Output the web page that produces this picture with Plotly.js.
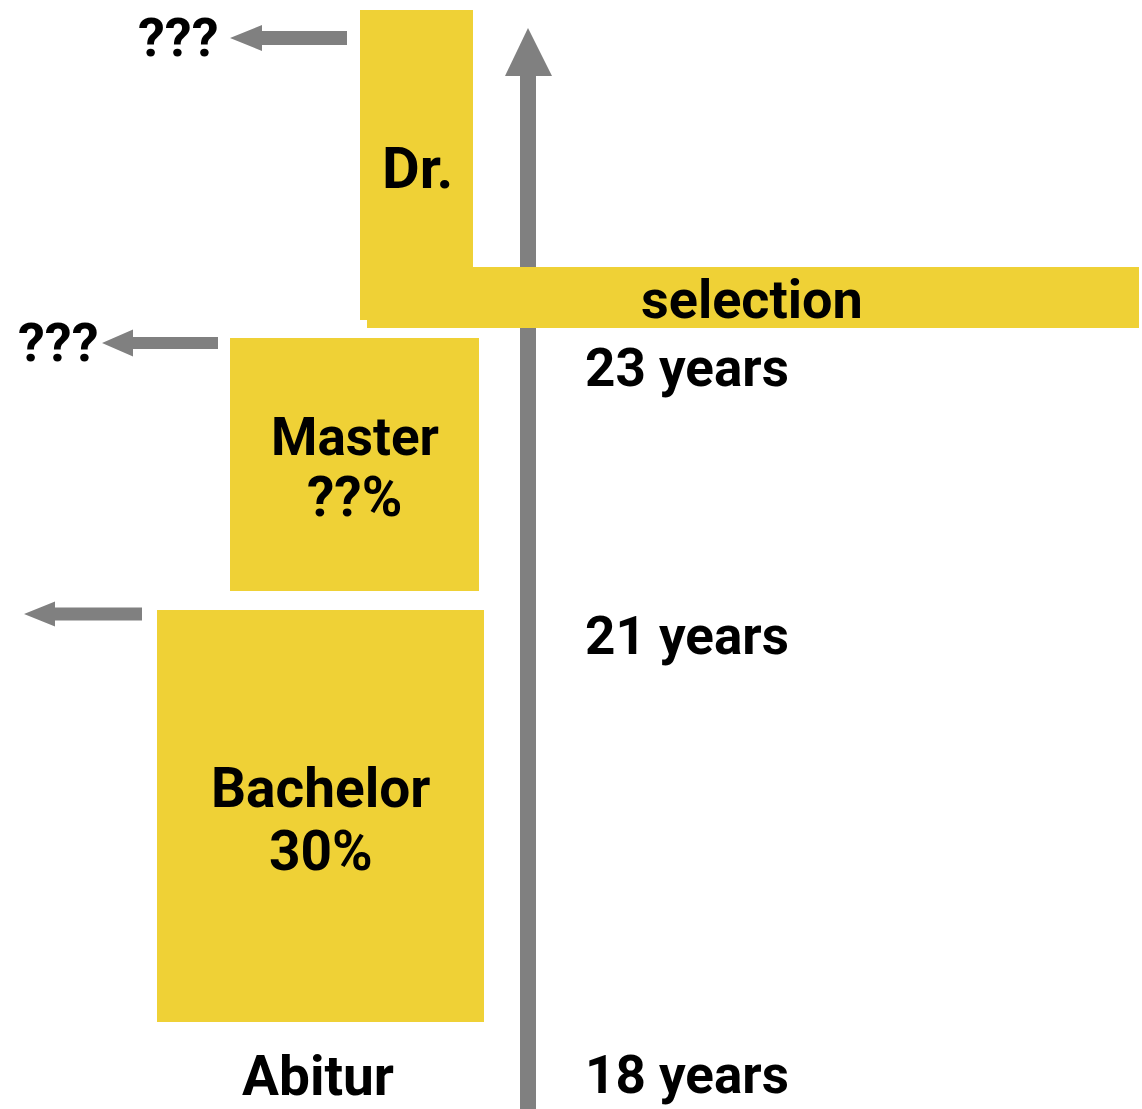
<!DOCTYPE html>
<html>
<head>
<meta charset="utf-8">
<script src="https://cdn.plot.ly/plotly-3.0.1.min.js"></script>
<style>html,body{margin:0;padding:0;background:#fff;}#chart{width:1142px;height:1109px;}</style>
</head>
<body>
<div id="chart"></div>
<script>
// ---- data ----
var stages = ['Bachelor', 'Master', 'Dr.'];
var shares = ['30%', '??%', ''];
var exitLabels = ['', '???', '???'];
var ageLabels = ['18 years', '21 years', '23 years'];
var startLabel = 'Abitur';
var gateLabel = 'selection';

// ---- geometry (pixel-like coordinate space) ----
var YELLOW = '#EFD136', GRAY = '#808080';
var FONT = 'Roboto, "DejaVu Sans", sans-serif';
var boxes = [
  {x0: 157, x1: 484, y0: 610, y1: 1022},
  {x0: 230, x1: 479, y0: 338, y1: 591},
  {x0: 360, x1: 473, y0: 10, y1: 320}
];
var labelY = [[788, 851], [437, 497], [168, 168]];
var labelSize = [55, 53, 58];
var agePos = [{y: 1108, anchor: 'bottom'}, {y: 636, anchor: 'middle'}, {y: 368, anchor: 'middle'}];
var arrows = [
  {tip: 24, base: 55, end: 142, y: 614, half: 6.5, head: 12.5},
  {tip: 102, base: 133, end: 218, y: 343, half: 6, head: 13.5},
  {tip: 230, base: 262, end: 347, y: 38, half: 7, head: 13}
];
var exitTextX = [0, 58, 178];

var shapes = [];
var annotations = [];

// main vertical axis arrow
shapes.push({type: 'rect', xref: 'x', yref: 'y', x0: 520, x1: 536, y0: 74, y1: 1109, fillcolor: GRAY, line: {width: 0}});
shapes.push({type: 'path', xref: 'x', yref: 'y', path: 'M 505 76 L 528 28 L 552 76 Z', fillcolor: GRAY, line: {width: 0}});

// selection bar
shapes.push({type: 'rect', xref: 'x', yref: 'y', x0: 367, x1: 1139, y0: 267, y1: 328, fillcolor: YELLOW, line: {width: 0}});

stages.forEach(function (s, i) {
  var b = boxes[i];
  shapes.push({type: 'rect', xref: 'x', yref: 'y', x0: b.x0, x1: b.x1, y0: b.y0, y1: b.y1, fillcolor: YELLOW, line: {width: 0}});
  var cx = (b.x0 + b.x1) / 2;
  annotations.push({x: cx + (i === 2 ? 1 : 0), y: labelY[i][0], xref: 'x', yref: 'y', text: '<b>' + s + '</b>', showarrow: false,
    font: {family: FONT, size: labelSize[i], color: '#000'}, xanchor: 'center', yanchor: 'middle'});
  if (shares[i]) {
    annotations.push({x: cx, y: labelY[i][1], xref: 'x', yref: 'y', text: '<b>' + shares[i] + '</b>', showarrow: false,
      font: {family: FONT, size: 55, color: '#000'}, xanchor: 'center', yanchor: 'middle'});
  }
  // exit arrow
  var a = arrows[i];
  shapes.push({type: 'path', xref: 'x', yref: 'y',
    path: 'M ' + a.end + ' ' + (a.y - a.half) + ' L ' + a.base + ' ' + (a.y - a.half) + ' L ' + a.base + ' ' + (a.y - a.head) +
      ' L ' + a.tip + ' ' + a.y + ' L ' + a.base + ' ' + (a.y + a.head) + ' L ' + a.base + ' ' + (a.y + a.half) +
      ' L ' + a.end + ' ' + (a.y + a.half) + ' Z',
    fillcolor: GRAY, line: {width: 0}});
  if (exitLabels[i]) {
    annotations.push({x: exitTextX[i], y: a.y - 1, xref: 'x', yref: 'y', text: '<b>' + exitLabels[i] + '</b>', showarrow: false,
      font: {family: FONT, size: 54, color: '#000'}, xanchor: 'center', yanchor: 'middle'});
  }
  annotations.push({x: 583, y: agePos[i].y, xref: 'x', yref: 'y', text: '<b>' + ageLabels[i] + '</b>', showarrow: false,
    font: {family: FONT, size: 53, color: '#000'}, xanchor: 'left', yanchor: agePos[i].anchor});
});

annotations.push({x: 318, y: 1076, xref: 'x', yref: 'y', text: '<b>' + startLabel + '</b>', showarrow: false,
  font: {family: FONT, size: 55, color: '#000'}, xanchor: 'center', yanchor: 'middle'});
annotations.push({x: 752, y: 299, xref: 'x', yref: 'y', text: '<b>' + gateLabel + '</b>', showarrow: false,
  font: {family: FONT, size: 54, color: '#000'}, xanchor: 'center', yanchor: 'middle'});

var layout = {
  width: 1142, height: 1109,
  margin: {l: 0, r: 0, t: 0, b: 0, pad: 0},
  paper_bgcolor: '#fff', plot_bgcolor: '#fff',
  xaxis: {range: [0, 1142], visible: false, fixedrange: true},
  yaxis: {range: [1109, 0], visible: false, fixedrange: true},
  shapes: shapes,
  annotations: annotations,
  showlegend: false
};
Plotly.newPlot('chart', [{x: [], y: [], type: 'scatter', hoverinfo: 'skip'}], layout, {staticPlot: true, displayModeBar: false});
</script>
</body>
</html>
